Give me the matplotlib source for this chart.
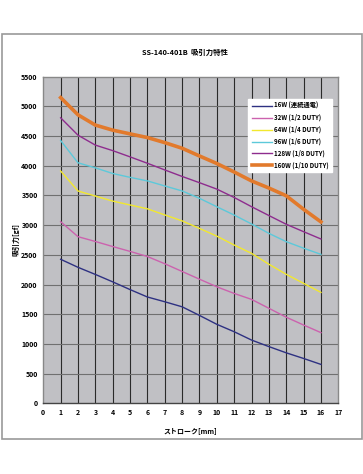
import matplotlib
matplotlib.use("Agg")
import matplotlib.pyplot as plt
from matplotlib.patches import Rectangle

plt.rcParams['font.family'] = ['Noto Sans CJK JP', 'DejaVu Sans']

stroke = [1, 2, 3, 4, 5, 6, 7, 8, 9, 10, 11, 12, 13, 14, 15, 16]
w16 = [2425, 2290, 2170, 2045, 1915, 1790, 1710, 1625, 1480, 1330, 1205, 1065, 955, 850, 755, 655]
w32 = [3058, 2806, 2725, 2640, 2558, 2472, 2350, 2220, 2090, 1962, 1850, 1750, 1600, 1450, 1318, 1190]
w64 = [3912, 3575, 3490, 3405, 3340, 3275, 3172, 3072, 2945, 2815, 2665, 2525, 2342, 2172, 2020, 1868]
w96 = [4425, 4050, 3965, 3870, 3805, 3745, 3660, 3576, 3452, 3310, 3170, 3020, 2862, 2722, 2612, 2508]
w128 = [4808, 4515, 4348, 4255, 4150, 4042, 3930, 3820, 3715, 3607, 3466, 3311, 3162, 3015, 2890, 2767]
w160 = [5148, 4858, 4685, 4600, 4537, 4475, 4390, 4295, 4165, 4038, 3895, 3745, 3625, 3495, 3267, 3055]

labels = ["16W (連続通電)", "32W (1/2 DUTY)", "64W (1/4 DUTY)",
          "96W (1/6 DUTY)", "128W (1/8 DUTY)", "160W (1/10 DUTY)"]
series = [w16, w32, w64, w96, w128, w160]
colors = ["#2E3182", "#CC62AE", "#F2E82E", "#5CC9DA", "#8E2C8E", "#E27A2C"]
widths = [1.0, 1.0, 1.0, 1.0, 1.0, 2.6]

title = "SS-140-401B  吸引力特性"
xlabel = "ストローク[mm]"
ylabel = "吸引力[gf]"

fig = plt.figure(figsize=(3.63, 4.74), dpi=100)
fig.patch.set_facecolor("white")
fig.patches.append(Rectangle((1.5 / 363, 1 - 439 / 474), 360 / 363, 405 / 474,
                             transform=fig.transFigure, fill=False,
                             edgecolor="#999999", linewidth=1.2))

ax = fig.add_axes([43.3 / 363, 1 - 403.3 / 474, 295 / 363, 326.6 / 474])
ax.set_facecolor("#C0C0C4")
ax.set_xlim(0, 17)
ax.set_ylim(0, 5500)
ax.set_xticks(range(0, 18))
ax.set_yticks(range(0, 5501, 500))
for x in range(1, 17):
    ax.axvline(x, color="#2a2a2a", linewidth=0.8, zorder=1)
for y in range(500, 5500, 500):
    ax.axhline(y, color="#707070", linewidth=0.8, zorder=1)

for s, lab, c, lw in zip(series, labels, colors, widths):
    ax.plot(stroke, s, color=c, linewidth=lw, label=lab, zorder=3)

for sp in ax.spines.values():
    sp.set_color("#888888")
    sp.set_linewidth(1.0)
ax.spines['bottom'].set_color("#444444")
ax.tick_params(length=0, labelsize=5, pad=4)
for t in ax.get_xticklabels() + ax.get_yticklabels():
    t.set_fontweight("bold")

ax.set_xlabel(xlabel, fontsize=5, fontweight="bold", labelpad=8)
ax.set_ylabel(ylabel, fontsize=5, fontweight="bold", labelpad=1)
fig.text(185 / 363, 1 - 52 / 474, title, ha="center", va="center",
         fontsize=5.3, fontweight="bold")

leg = ax.legend(loc="upper left", bbox_to_anchor=(0.695, 0.933),
                fontsize=4.5, frameon=True, fancybox=False,
                edgecolor="white", facecolor="white", framealpha=1,
                handlelength=3.2, handletextpad=0.3, labelspacing=0.72,
                borderpad=0.55, borderaxespad=0)
for t in leg.get_texts():
    t.set_fontweight("bold")

fig.savefig("out.png", dpi=100, facecolor="white")
